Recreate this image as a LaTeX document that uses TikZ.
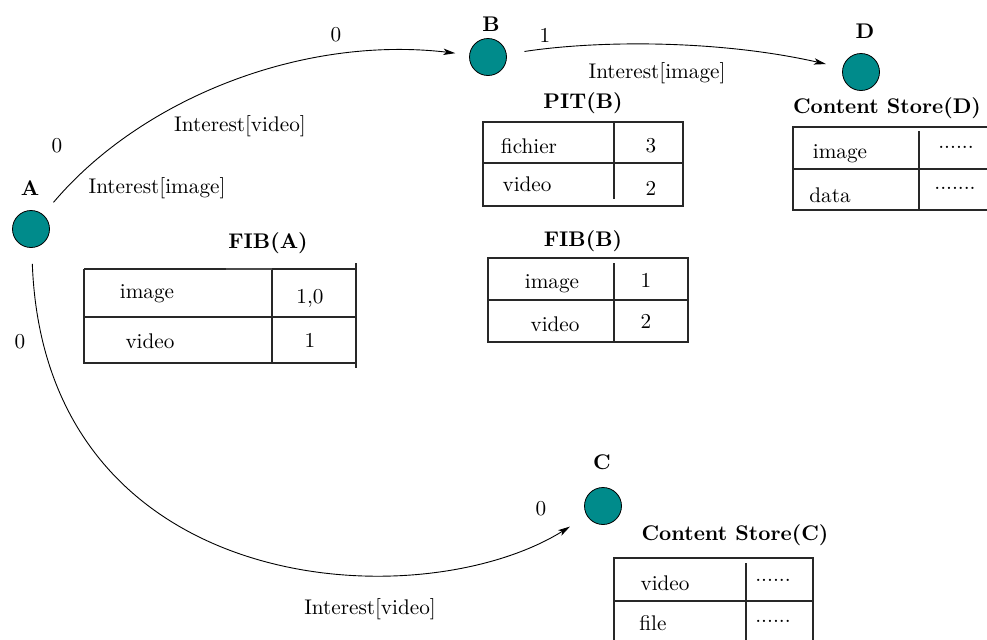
\documentclass[tikz,border=0pt]{standalone}
\usetikzlibrary{arrows.meta}
\definecolor{tealnode}{RGB}{0,139,139}
\definecolor{tblline}{RGB}{40,40,40}
\begin{document}
\begin{tikzpicture}[x=0.5pt,y=-0.5pt,
  every node/.style={font=\fontsize{10.6}{12}\selectfont, inner sep=1pt},
  vert/.style={circle, draw=black, fill=tealnode, minimum size=18.5pt, inner sep=0pt, line width=0.4pt},
  vlabel/.style={font=\fontsize{10.6}{12}\selectfont\bfseries},
  tbl/.style={draw=tblline, line width=0.55pt},
  edge/.style={line width=0.45pt, -{Stealth[length=6pt,width=3.2pt,inset=1.5pt]}}]
\useasboundingbox (0,0) rectangle (987,639);

% vertices
\node[vert] (A) at (31,229) {};
\node[vert] (B) at (488,57) {};
\node[vert] (D) at (861,72) {};
\node[vert] (C) at (603,506) {};
\node[vlabel] (lA) at (30,188) {A};
\node[vlabel] (lB) at (491,24) {B};
\node[vlabel] (lD) at (865,31) {D};
\node[vlabel] (lC) at (602,462) {C};

% edges
\draw[edge, shorten <=8pt, shorten >=7pt] (A) .. controls (140,100) and (300,35) .. (B);
\draw[edge, shorten <=9pt, shorten >=8.5pt] (B) .. controls (600,40) and (720,40) .. (D);
\draw[edge, shorten <=8pt, shorten >=10pt] (A) .. controls (45,600) and (420,620) .. (C);

% edge labels
\node (e1) at (336,35) {0};
\node (e2) at (240,126) {Interest[video]};
\node (e3) at (57,146) {0};
\node (e4) at (157,188) {Interest[image]};
\node (e5) at (545,35) {1};
\node (e6) at (657,73) {Interest[image]};
\node (e7) at (20,342) {0};
\node (e8) at (541,509) {0};
\node (e9) at (370,609) {Interest[video]};

% FIB(A)
\node[vlabel] (tFA) at (268,243) {FIB(A)};
\draw[tbl] (84,269) -- (356,269);
\draw[tbl] (84,269) -- (84,363) -- (356,363);
\draw[tbl] (84,317) -- (356,317);
\draw[tbl] (272,269) -- (272,363);
\draw[tbl] (356,263) -- (356,368);
\draw[draw=black!70, line width=1pt] (226,269) -- (272,269);
\node (fa1) at (147,294) {image};
\node (fa2) at (310,298) {1,0};
\node (fa3) at (150,341) {video};
\node (fa4) at (310,340) {1};

% PIT(B)
\node[vlabel] (tPB) at (583,103) {PIT(B)};
\draw[tbl] (483,122) rectangle (683,206);
\draw[tbl] (483,163) -- (683,163);
\draw[tbl] (614,122) -- (614,199);
\node (pb1) at (529,146) {fichier};
\node (pb2) at (651,146) {3};
\node (pb3) at (527,184) {video};
\node (pb4) at (651,188) {2};

% FIB(B)
\node[vlabel] (tFB) at (583,241) {FIB(B)};
\draw[tbl] (488,258) rectangle (688,342);
\draw[tbl] (488,300) -- (688,300);
\draw[tbl] (614,263) -- (614,342);
\node (fb1) at (552,284) {image};
\node (fb2) at (646,280) {1};
\node (fb3) at (555,324) {video};
\node (fb4) at (646,321) {2};

% Content Store(D)
\node[vlabel] (tCD) at (887,108) {Content Store(D)};
\draw[tbl] (987,127) -- (793,127) -- (793,210) -- (987,210);
\draw[tbl] (793,169) -- (987,169);
\draw[tbl] (919,131) -- (919,210);
\node (cd1) at (840,154) {image};
\node (cd2) at (956,147) {......};
\node (cd3) at (830,195) {data};
\node (cd4) at (955,188) {.......};

% Content Store(C)
\node[vlabel] (tCC) at (735,535) {Content Store(C)};
\draw[tbl] (614,640) -- (614,558) -- (813,558) -- (813,640);
\draw[tbl] (614,601) -- (813,601);
\draw[tbl] (746,563) -- (746,640);
\node (cc1) at (665,583) {video};
\node (cc2) at (773,580) {......};
\node (cc3) at (653,623) {file};
\node (cc4) at (773,621) {......};
\end{tikzpicture}
\end{document}
